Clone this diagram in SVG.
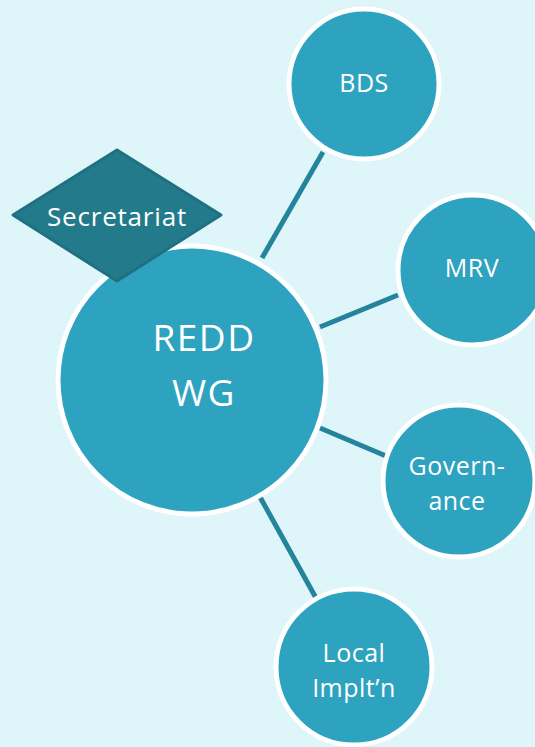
<svg xmlns="http://www.w3.org/2000/svg" width="535" height="747" viewBox="0 0 535 747">
<style>
.bg{fill:#def5fa}
.c{fill:#2ea3c0;stroke:#ffffff;stroke-width:5}
.t{fill:#ffffff;font-family:"Open Sans","Liberation Sans",sans-serif;text-anchor:middle;font-size:25px;letter-spacing:0.5px}
.big{font-size:37px;letter-spacing:1.5px}
.sec{font-size:26px;letter-spacing:0.8px}
.ln{stroke:#23849c;stroke-width:5;fill:none}
</style>
<rect class="bg" x="0" y="0" width="535" height="747"/>
<g id="connectors">
<line class="ln" x1="262" y1="258" x2="323" y2="152"/>
<line class="ln" x1="320" y1="327" x2="398" y2="295"/>
<line class="ln" x1="320" y1="428" x2="386" y2="456"/>
<line class="ln" x1="260" y1="497" x2="316" y2="598"/>
</g>
<g id="bds">
<circle class="c" cx="364" cy="84" r="75"/>
<text class="t" x="364" y="92">BDS</text>
</g>
<g id="mrv">
<circle class="c" cx="473" cy="270" r="75"/>
<text class="t" x="472" y="277">MRV</text>
</g>
<g id="governance">
<circle class="c" cx="459" cy="481" r="76"/>
<text class="t" x="457" y="475">Govern-</text>
<text class="t" x="457" y="510">ance</text>
</g>
<g id="local">
<circle class="c" cx="354" cy="667" r="78"/>
<text class="t" x="354" y="662">Local</text>
<text class="t" x="354" y="697">Implt’n</text>
</g>
<g id="redd">
<circle class="c" cx="192" cy="380" r="134"/>
<text class="t big" x="204" y="351">REDD</text>
<text class="t big" x="204" y="406">WG</text>
</g>
<g id="secretariat">
<polygon points="117,150 221,215 117,281 13,215" fill="#237a8b" stroke="#1f7181" stroke-width="3" stroke-linejoin="round"/>
<text class="t sec" x="117" y="226">Secretariat</text>
</g>
</svg>
